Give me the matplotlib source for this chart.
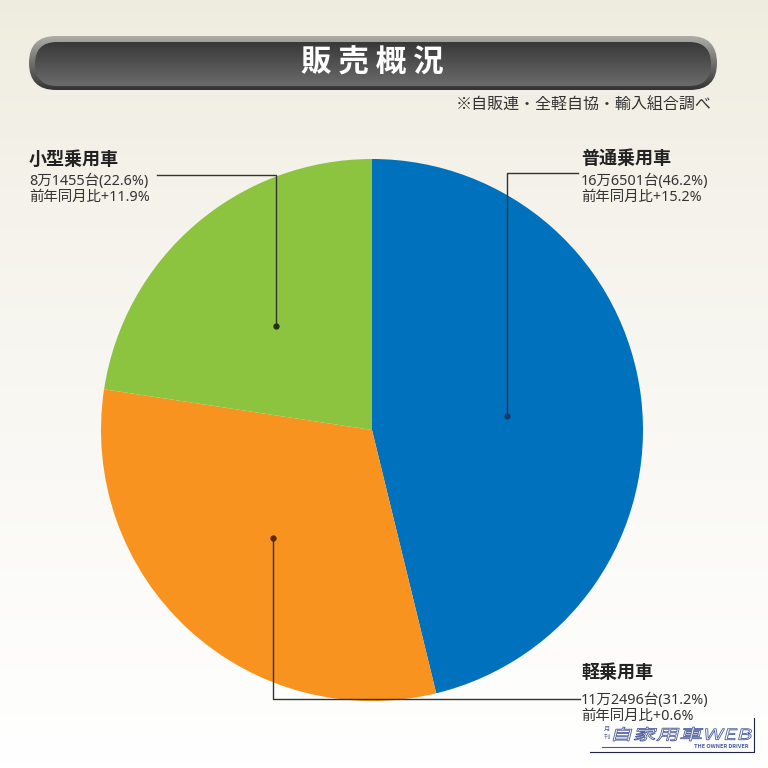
import numpy as np
import matplotlib.pyplot as plt
from matplotlib.patches import FancyBboxPatch, PathPatch
from matplotlib.textpath import TextPath
from matplotlib.font_manager import FontProperties
from matplotlib.transforms import Affine2D

plt.rcParams['font.family'] = ['Noto Sans CJK JP', 'DejaVu Sans']

# data
categories = ['普通乗用車', '軽乗用車', '小型乗用車']
units = [166501, 112496, 81455]
unit_labels = ['16万6501台', '11万2496台', '8万1455台']
shares = ['46.2%', '31.2%', '22.6%']
yoy = ['+15.2%', '+0.6%', '+11.9%']
colors = ['#0071bc', '#f7931e', '#8cc43f']

W = H = 768
fig = plt.figure(figsize=(7.68, 7.68), dpi=100)
ax = fig.add_axes([0, 0, 1, 1])


def Y(py):
    # pixel row (from top) -> data y
    return H - py


def vgrad(c_top, c_bot, n=128, gamma=1.0):
    t = np.linspace(0, 1, n).reshape(-1, 1, 1) ** gamma
    return np.array(c_top) + (np.array(c_bot) - np.array(c_top)) * t


# pie
cx, cy, R = 372, Y(430), 271
wedges, _ = ax.pie(units, colors=colors, startangle=90, counterclock=False,
                   center=(cx, cy), radius=R, frame=True,
                   wedgeprops=dict(lw=0))
for w in wedges:
    w.set_zorder(2)
ax.set_xlim(0, W)
ax.set_ylim(0, H)
ax.set_aspect('auto')
ax.axis('off')

# background gradient
ax.imshow(vgrad([0.937, 0.925, 0.875], [1, 1, 1], gamma=0.8),
          extent=[0, W, 0, H], origin='upper', aspect='auto', zorder=0)

# title bar
outer = FancyBboxPatch((29, Y(90)), 688, 54, boxstyle='round,pad=0,rounding_size=27',
                       fc='none', ec='none', zorder=1)
ax.add_patch(outer)
im = ax.imshow(vgrad([0.68, 0.68, 0.66], [0.2, 0.2, 0.2]), extent=[29, 717, Y(90), Y(36)],
               origin='upper', aspect='auto', zorder=1)
im.set_clip_path(outer)
inner = FancyBboxPatch((35, Y(86)), 676, 44, boxstyle='round,pad=0,rounding_size=22',
                       fc='none', ec='none', zorder=1.5)
ax.add_patch(inner)
im2 = ax.imshow(vgrad([0.22, 0.22, 0.22], [0.42, 0.42, 0.42]), extent=[35, 711, Y(86), Y(42)],
                origin='upper', aspect='auto', zorder=1.5)
im2.set_clip_path(inner)
ax.text(372, Y(63), '販 売 概 況', color='white', fontsize=22, fontweight='bold',
        ha='center', va='center', zorder=3)
ax.text(712, Y(105), '※自販連・全軽自協・輸入組合調べ', color='#333333', fontsize=11.5,
        ha='right', va='center', zorder=3)


def anchor(w, f=0.52, da=0.0):
    a = np.deg2rad((w.theta1 + w.theta2) / 2 + da)
    return cx + f * R * np.cos(a), cy + f * R * np.sin(a)


lc = '#333333'
small = dict(fontsize=10.4, color='#333333', va='center', family=['Noto Sans', 'Noto Sans CJK JP'])
big = dict(fontsize=13, fontweight='bold', color='#222222', va='center')

# 普通乗用車 (right top)
x0, y0 = anchor(wedges[0], 0.50, -1)
ly = Y(173)
ax.plot([x0, x0, 578], [y0, ly, ly], color=lc, lw=1, zorder=4)
ax.plot(x0, y0, 'o', ms=3.5, color='#1a3a6a', zorder=5)
tx = 581
ax.text(tx, Y(159), categories[0], **big)
ax.text(tx, Y(181), f'{unit_labels[0]}({shares[0]})', **small)
ax.text(tx, Y(197), f'前年同月比{yoy[0]}', **small)

# 軽乗用車 (right bottom)
x1, y1 = anchor(wedges[1], 0.54)
ly = Y(699)
ax.plot([x1, x1, 580], [y1, ly, ly], color=lc, lw=1, zorder=4)
ax.plot(x1, y1, 'o', ms=3.5, color='#5a2a00', zorder=5)
ax.text(tx, Y(672), categories[1], **big)
ax.text(tx, Y(700), f'{unit_labels[1]}({shares[1]})', **small)
ax.text(tx, Y(716), f'前年同月比{yoy[1]}', **small)

# 小型乗用車 (left top)
x2, y2 = anchor(wedges[2], 0.52, 2)
ly = Y(175)
ax.plot([157, x2, x2], [ly, ly, y2], color=lc, lw=1, zorder=4)
ax.plot(x2, y2, 'o', ms=3.5, color='#223311', zorder=5)
lx = 29
ax.text(lx, Y(159), categories[2], **big)
ax.text(lx, Y(181), f'{unit_labels[2]}({shares[2]})', **small)
ax.text(lx, Y(197), f'前年同月比{yoy[2]}', **small)

# logo
logo_c = '#4a5a9a'
tp = TextPath((0, 0), '自家用車WEB', size=15, prop=FontProperties(family='Noto Sans CJK JP'))
bb = tp.get_extents()
sx = 137 / bb.width
tr = Affine2D().translate(-bb.x0, -bb.y0).scale(sx, 1.0).skew_deg(14, 0).translate(613, Y(741))
ax.add_patch(PathPatch(tr.transform_path(tp), fc='white', ec=logo_c, lw=0.6, zorder=6))
ax.text(607, Y(733), '月\n刊', fontsize=4.5, color=logo_c, ha='center', va='center',
        linespacing=0.9, style='italic', zorder=6)
ax.plot([602, 670], [Y(747), Y(747)], color=logo_c, lw=0.8, zorder=6)
ax.text(748, Y(747), 'THE OWNER DRIVER', fontsize=4, color=logo_c, style='italic',
        fontweight='bold', ha='right', va='center', zorder=6)
ax.plot([590, 754, 754], [Y(752), Y(752), Y(718)], color='#222244', lw=0.8, zorder=6)

fig.savefig('out.png', dpi=100)
